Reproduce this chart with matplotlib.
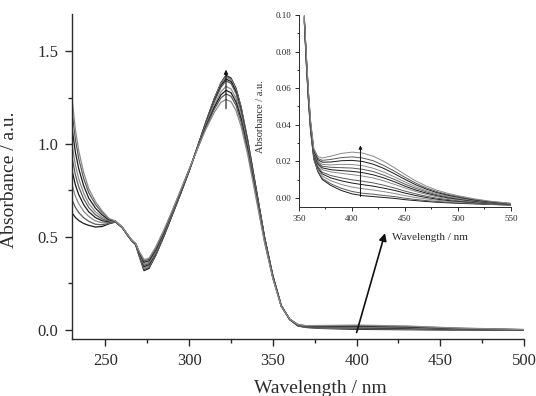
import matplotlib
matplotlib.use('Agg')
import matplotlib.pyplot as plt
from matplotlib.ticker import MultipleLocator, FormatStrFormatter

plt.rcParams['font.family'] = ['Liberation Serif', 'DejaVu Serif']

# ---- main spectra (absorbance vs wavelength, 9 scans) ----
wl_main = [230, 232, 234, 237, 240, 244, 248, 252, 256, 260, 263, 266, 268, 270,
           273, 276, 280, 285, 290, 295, 300, 305, 310, 315, 319, 322, 325, 328,
           331, 335, 340, 345, 350, 355, 360, 365, 370, 380, 400, 430, 460, 500]

abs_main = [
    [0.630, 0.605, 0.588, 0.572, 0.562, 0.553, 0.556, 0.570, 0.580, 0.550, 0.510, 0.475, 0.458, 0.400,
     0.318, 0.330, 0.400, 0.505, 0.620, 0.735, 0.855, 0.985, 1.120, 1.245, 1.330, 1.370, 1.355, 1.300,
     1.200, 1.020, 0.760, 0.500, 0.290, 0.130, 0.055, 0.020, 0.012, 0.0068, 0.0022, 0.0002, -0.0015, -0.0030],
    [0.700, 0.659, 0.631, 0.603, 0.584, 0.568, 0.565, 0.573, 0.581, 0.550, 0.511, 0.476, 0.459, 0.403,
     0.325, 0.336, 0.401, 0.506, 0.621, 0.736, 0.855, 0.985, 1.119, 1.243, 1.327, 1.366, 1.351, 1.296,
     1.197, 1.018, 0.758, 0.499, 0.290, 0.130, 0.055, 0.021, 0.013, 0.0086, 0.0048, 0.0024, -0.0003, -0.0025],
    [0.780, 0.720, 0.679, 0.638, 0.610, 0.586, 0.576, 0.577, 0.581, 0.551, 0.511, 0.476, 0.460, 0.406,
     0.333, 0.343, 0.404, 0.508, 0.622, 0.737, 0.856, 0.984, 1.117, 1.239, 1.322, 1.360, 1.345, 1.290,
     1.192, 1.014, 0.756, 0.498, 0.289, 0.130, 0.056, 0.022, 0.014, 0.0107, 0.0077, 0.0050, 0.0011, -0.0020],
    [0.860, 0.781, 0.728, 0.673, 0.635, 0.604, 0.587, 0.581, 0.582, 0.551, 0.512, 0.477, 0.461, 0.409,
     0.340, 0.350, 0.407, 0.510, 0.624, 0.738, 0.857, 0.984, 1.114, 1.234, 1.314, 1.350, 1.336, 1.282,
     1.184, 1.008, 0.752, 0.496, 0.288, 0.129, 0.056, 0.023, 0.016, 0.0127, 0.0107, 0.0075, 0.0025, -0.0014],
    [0.930, 0.835, 0.770, 0.704, 0.658, 0.619, 0.597, 0.585, 0.582, 0.551, 0.512, 0.477, 0.461, 0.412,
     0.347, 0.357, 0.410, 0.513, 0.626, 0.740, 0.857, 0.983, 1.111, 1.228, 1.306, 1.340, 1.326, 1.272,
     1.176, 1.002, 0.747, 0.493, 0.287, 0.129, 0.056, 0.024, 0.017, 0.0145, 0.0132, 0.0098, 0.0037, -0.0010],
    [1.000, 0.889, 0.813, 0.735, 0.680, 0.635, 0.606, 0.588, 0.583, 0.552, 0.513, 0.478, 0.462, 0.415,
     0.354, 0.363, 0.421, 0.521, 0.632, 0.744, 0.860, 0.980, 1.102, 1.210, 1.282, 1.310, 1.297, 1.245,
     1.152, 0.983, 0.735, 0.486, 0.283, 0.128, 0.057, 0.025, 0.018, 0.0164, 0.0158, 0.0120, 0.0049, -0.0005],
    [1.090, 0.957, 0.868, 0.775, 0.709, 0.655, 0.618, 0.592, 0.584, 0.552, 0.514, 0.479, 0.463, 0.419,
     0.363, 0.371, 0.428, 0.527, 0.636, 0.747, 0.861, 0.979, 1.095, 1.198, 1.265, 1.289, 1.276, 1.226,
     1.135, 0.970, 0.726, 0.481, 0.281, 0.127, 0.057, 0.026, 0.019, 0.0187, 0.0191, 0.0149, 0.0065, 0.0001],
    [1.180, 1.026, 0.922, 0.814, 0.738, 0.675, 0.631, 0.597, 0.584, 0.553, 0.514, 0.479, 0.464, 0.422,
     0.371, 0.379, 0.435, 0.532, 0.639, 0.750, 0.863, 0.977, 1.089, 1.187, 1.249, 1.270, 1.257, 1.208,
     1.119, 0.958, 0.718, 0.477, 0.278, 0.126, 0.058, 0.027, 0.021, 0.0210, 0.0224, 0.0178, 0.0081, 0.0007],
    [1.250, 1.080, 0.965, 0.845, 0.760, 0.690, 0.640, 0.600, 0.585, 0.553, 0.515, 0.480, 0.465, 0.425,
     0.378, 0.385, 0.445, 0.540, 0.645, 0.755, 0.865, 0.975, 1.080, 1.170, 1.225, 1.240, 1.228, 1.180,
     1.095, 0.940, 0.705, 0.470, 0.275, 0.125, 0.058, 0.028, 0.022, 0.0228, 0.0250, 0.0200, 0.0093, 0.0012],
]

# ---- inset: zoom of the 350-550 nm band (12 scans) ----
wl_inset = [355, 357, 359, 361, 364, 368, 372, 380, 390, 400, 410, 420,
            430, 440, 450, 460, 470, 480, 490, 500, 515, 530, 550]

abs_inset = [
    [0.0960, 0.0720, 0.0520, 0.0360, 0.0210, 0.0140, 0.0100, 0.0068, 0.0040, 0.0022, 0.0012, 0.0007,
     0.0002, -0.0003, -0.0010, -0.0015, -0.0020, -0.0024, -0.0027, -0.0030, -0.0033, -0.0036, -0.0040],
    [0.0962, 0.0723, 0.0523, 0.0363, 0.0213, 0.0145, 0.0107, 0.0077, 0.0052, 0.0035, 0.0025, 0.0020,
     0.0013, 0.0007, -0.0002, -0.0009, -0.0015, -0.0020, -0.0024, -0.0028, -0.0031, -0.0035, -0.0039],
    [0.0966, 0.0730, 0.0530, 0.0370, 0.0220, 0.0154, 0.0119, 0.0094, 0.0073, 0.0059, 0.0050, 0.0043,
     0.0034, 0.0024, 0.0012, 0.0002, -0.0006, -0.0013, -0.0019, -0.0023, -0.0028, -0.0033, -0.0038],
    [0.0970, 0.0736, 0.0536, 0.0376, 0.0226, 0.0162, 0.0131, 0.0109, 0.0093, 0.0081, 0.0072, 0.0064,
     0.0053, 0.0041, 0.0026, 0.0013, 0.0002, -0.0007, -0.0014, -0.0019, -0.0026, -0.0031, -0.0037],
    [0.0974, 0.0740, 0.0540, 0.0380, 0.0230, 0.0169, 0.0140, 0.0122, 0.0109, 0.0099, 0.0091, 0.0082,
     0.0069, 0.0054, 0.0037, 0.0022, 0.0009, -0.0002, -0.0009, -0.0016, -0.0024, -0.0030, -0.0037],
    [0.0978, 0.0748, 0.0548, 0.0388, 0.0238, 0.0179, 0.0154, 0.0142, 0.0134, 0.0127, 0.0119, 0.0109,
     0.0093, 0.0074, 0.0054, 0.0035, 0.0019, 0.0006, -0.0003, -0.0011, -0.0020, -0.0028, -0.0035],
    [0.0982, 0.0752, 0.0552, 0.0392, 0.0242, 0.0186, 0.0164, 0.0154, 0.0149, 0.0145, 0.0138, 0.0126,
     0.0109, 0.0088, 0.0064, 0.0043, 0.0026, 0.0012, 0.0001, -0.0007, -0.0018, -0.0026, -0.0035],
    [0.0985, 0.0757, 0.0557, 0.0397, 0.0247, 0.0193, 0.0173, 0.0167, 0.0165, 0.0163, 0.0156, 0.0144,
     0.0124, 0.0101, 0.0075, 0.0052, 0.0033, 0.0017, 0.0005, -0.0004, -0.0016, -0.0025, -0.0034],
    [0.0988, 0.0762, 0.0562, 0.0402, 0.0252, 0.0200, 0.0183, 0.0180, 0.0183, 0.0182, 0.0176, 0.0162,
     0.0141, 0.0115, 0.0087, 0.0061, 0.0040, 0.0022, 0.0010, -0.0001, -0.0013, -0.0023, -0.0033],
    [0.0992, 0.0768, 0.0568, 0.0408, 0.0258, 0.0208, 0.0195, 0.0196, 0.0203, 0.0205, 0.0199, 0.0184,
     0.0161, 0.0132, 0.0101, 0.0072, 0.0048, 0.0029, 0.0015, 0.0004, -0.0011, -0.0022, -0.0032],
    [0.0995, 0.0773, 0.0573, 0.0413, 0.0263, 0.0215, 0.0205, 0.0210, 0.0220, 0.0224, 0.0218, 0.0203,
     0.0177, 0.0146, 0.0112, 0.0081, 0.0055, 0.0034, 0.0019, 0.0007, -0.0008, -0.0020, -0.0031],
    [0.1000, 0.0780, 0.0580, 0.0420, 0.0270, 0.0225, 0.0218, 0.0228, 0.0243, 0.0250, 0.0245, 0.0228,
     0.0200, 0.0165, 0.0128, 0.0093, 0.0065, 0.0042, 0.0025, 0.0012, -0.0005, -0.0018, -0.0030],
]

line_colors = ['#1a1a1a', '#5a5a5a', '#8a8a8a']
text_color = '#2a2a2a'


def style_axes(ax, label_size, tick_len, width, pad):
    ax.spines['top'].set_visible(False)
    ax.spines['right'].set_visible(False)
    for side in ('left', 'bottom'):
        ax.spines[side].set_linewidth(width)
        ax.spines[side].set_color(text_color)
    ax.tick_params(which='major', direction='out', length=tick_len, width=width,
                   labelsize=label_size, colors=text_color, pad=pad)
    ax.tick_params(which='minor', direction='out', length=tick_len * 0.6, width=width,
                   colors=text_color)


fig = plt.figure(figsize=(5.36, 3.96), dpi=100)

# main axes
ax = fig.add_axes([0.1343, 0.1439, 0.8433, 0.8207])
for i, row in enumerate(abs_main):
    ax.plot(wl_main, row, color=line_colors[i % 3], lw=0.9)
ax.set_xlim(230, 500)
ax.set_ylim(-0.05, 1.70)
ax.xaxis.set_major_locator(MultipleLocator(50))
ax.xaxis.set_minor_locator(MultipleLocator(25))
ax.yaxis.set_major_locator(MultipleLocator(0.5))
ax.yaxis.set_minor_locator(MultipleLocator(0.25))
ax.yaxis.set_major_formatter(FormatStrFormatter('%.1f'))
style_axes(ax, 12, 5, 1.0, 5)
ax.set_xlabel('Wavelength / nm', fontsize=14, color=text_color)
ax.set_ylabel('Absorbance / a.u.', fontsize=14, color=text_color)
ax.xaxis.set_label_coords(0.55, -0.125)
ax.yaxis.set_label_coords(-0.12, 0.49)

# arrows in main plot
ax.annotate('', xy=(322, 1.40), xytext=(322, 1.19),
            arrowprops=dict(arrowstyle='-|>', color='#111111', lw=0.8,
                            mutation_scale=6, shrinkA=0, shrinkB=0))
ax.annotate('', xy=(417, 0.52), xytext=(400, -0.015),
            arrowprops=dict(arrowstyle='-|>', color='#111111', lw=1.2,
                            mutation_scale=11, shrinkA=0, shrinkB=0))

# inset axes
axin = fig.add_axes([0.5578, 0.4773, 0.3955, 0.4848])
for i, row in enumerate(abs_inset):
    axin.plot(wl_inset, row, color=line_colors[i % 3], lw=0.7)
axin.set_xlim(350, 550)
axin.set_ylim(-0.005, 0.10)
axin.xaxis.set_major_locator(MultipleLocator(50))
axin.xaxis.set_minor_locator(MultipleLocator(25))
axin.yaxis.set_major_locator(MultipleLocator(0.02))
axin.yaxis.set_minor_locator(MultipleLocator(0.01))
axin.yaxis.set_major_formatter(FormatStrFormatter('%.2f'))
style_axes(axin, 6.5, 3, 0.7, 2.5)
axin.set_xlabel('Wavelength / nm', fontsize=8, color=text_color)
axin.set_ylabel('Absorbance / a.u.', fontsize=7.5, color=text_color)
axin.xaxis.set_label_coords(0.62, -0.135)
axin.yaxis.set_label_coords(-0.16, 0.47)
axin.annotate('', xy=(408, 0.0287), xytext=(408, 0.0007),
              arrowprops=dict(arrowstyle='-|>', color='#111111', lw=0.7,
                              mutation_scale=5, shrinkA=0, shrinkB=0))

fig.savefig('out.png', dpi=100)
plt.close(fig)
